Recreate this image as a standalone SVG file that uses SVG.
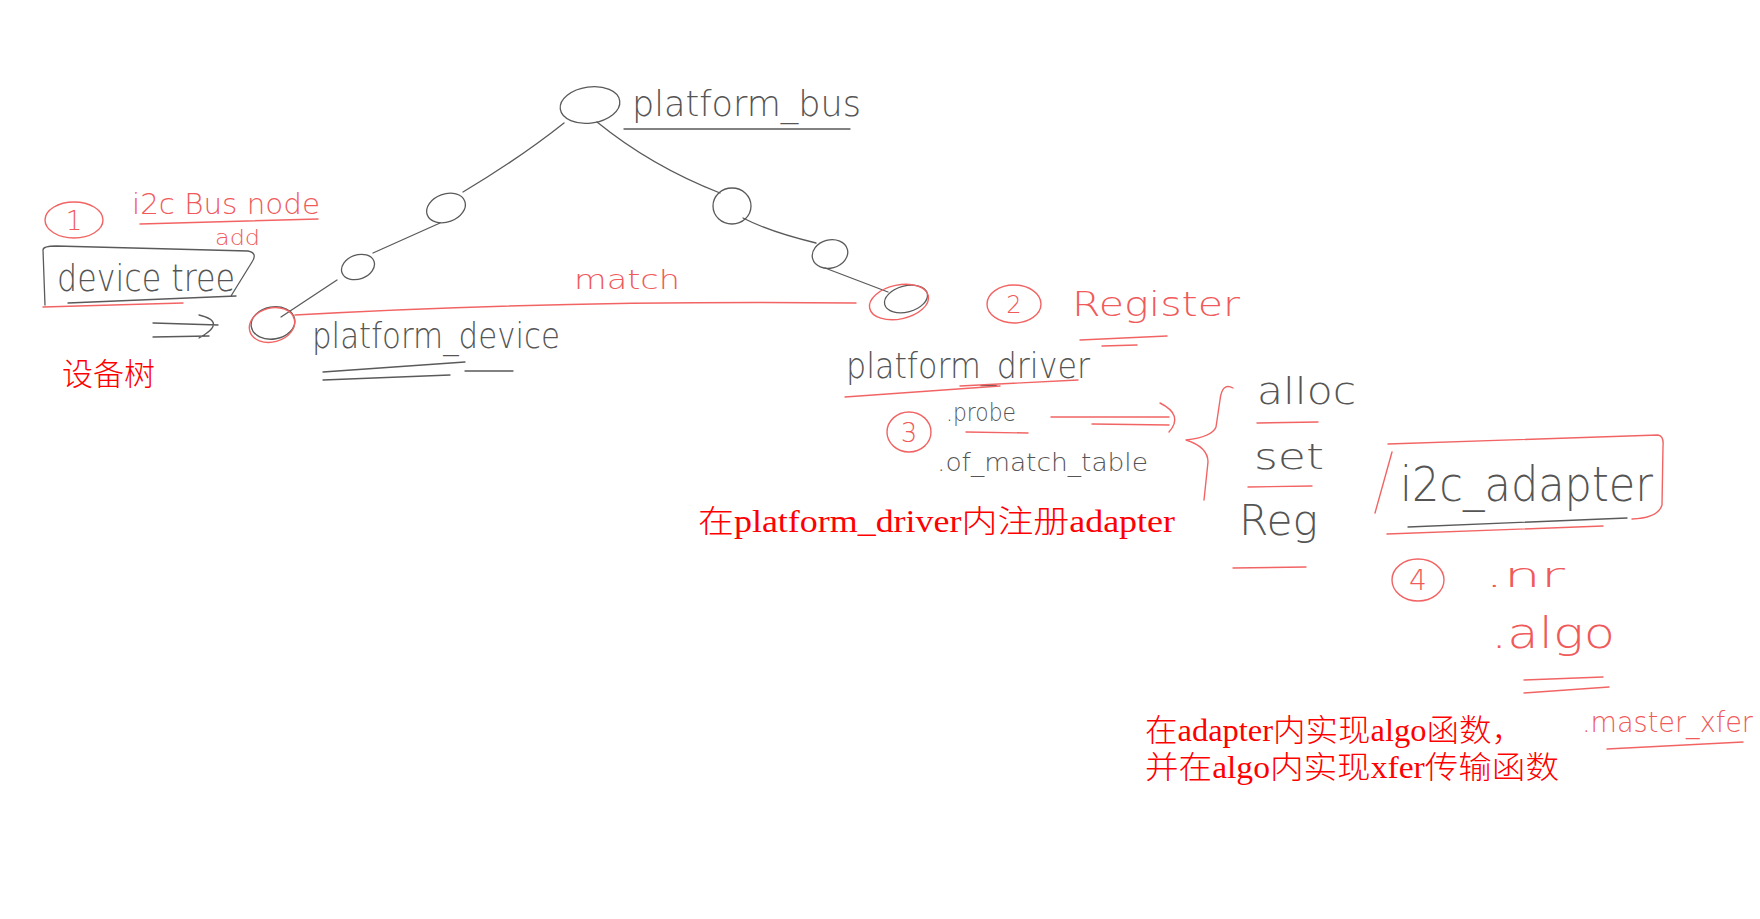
<svg xmlns="http://www.w3.org/2000/svg" width="1760" height="919" viewBox="0 0 1760 919">
<style>
.g{fill:none;stroke:#5a5a5a;stroke-width:1.3;stroke-linecap:round;stroke-linejoin:round}
.r{fill:none;stroke:#f26464;stroke-width:1.4;stroke-linecap:round;stroke-linejoin:round}
.hg{font-family:"DejaVu Sans","Liberation Sans",sans-serif;font-weight:200;fill:#555}
.hr{font-family:"DejaVu Sans","Liberation Sans",sans-serif;font-weight:200;fill:#f05a5a}
.p{font-family:"Liberation Serif","Noto Sans CJK SC",serif;font-weight:300;fill:#ff0000;font-size:31px}
</style>
<rect width="1760" height="919" fill="#ffffff"/>

<g id="connectors">
  <path class="g" d="M564,123 Q520,158 463,192"/>
  <path class="g" d="M440,223 L373,253"/>
  <path class="g" d="M337,280 L281,317"/>
  <path class="g" d="M597,122 Q651,166 720,193"/>
  <path class="g" d="M743,218 Q770,232 816,243"/>
  <path class="g" d="M825,268 L888,292"/>
  <path class="r" d="M295,315 Q560,300 856,303"/>
  <text class="hr" x="574" y="289" font-size="26" textLength="106" lengthAdjust="spacingAndGlyphs">match</text>
  <path class="g" d="M153,323 L218,325 M153,337 L209,336 M199,315 Q228,322 199,338"/>
  <path class="r" d="M1051,417 L1169,417 M1092,424 L1169,425 M1160,403 Q1184,415 1169,432"/>
</g>

<g id="platform_bus">
  <ellipse class="g" cx="590" cy="105" rx="30" ry="18" transform="rotate(-8 590 105)"/>
  <text class="hg" x="632" y="116" font-size="36" textLength="229" lengthAdjust="spacingAndGlyphs">platform_bus</text>
  <path class="g" d="M624,129 L850,129"/>
</g>

<g id="node_left1"><ellipse class="g" cx="446" cy="208" rx="20" ry="14" transform="rotate(-20 446 208)"/></g>
<g id="node_left2"><ellipse class="g" cx="358" cy="267" rx="17" ry="12" transform="rotate(-20 358 267)"/></g>

<g id="platform_device">
  <ellipse class="g" cx="273" cy="323" rx="22" ry="16" transform="rotate(-10 273 323)"/>
  <ellipse class="r" cx="272" cy="325" rx="23" ry="17" transform="rotate(-15 272 325)"/>
  <text class="hg" x="312" y="348" font-size="36" textLength="248" lengthAdjust="spacingAndGlyphs">platform_device</text>
  <path class="g" d="M323,372 L465,362 M465,371 L513,371 M323,380 L450,375"/>
</g>

<g id="node_right1"><ellipse class="g" cx="732" cy="206" rx="19" ry="18"/></g>
<g id="node_right2"><ellipse class="g" cx="830" cy="254" rx="18" ry="14" transform="rotate(-15 830 254)"/></g>

<g id="platform_driver">
  <ellipse class="g" cx="906" cy="299" rx="22" ry="13" transform="rotate(-15 906 299)"/>
  <ellipse class="r" cx="899" cy="302" rx="30" ry="17" transform="rotate(-12 899 302)"/>
  <text class="hg" x="846" y="378" font-size="36" textLength="244" lengthAdjust="spacingAndGlyphs">platform_driver</text>
  <path class="r" d="M845,397 L1000,386 M960,386 L1078,380"/>
</g>

<g id="device_tree">
  <path class="g" d="M45,305 L43,250 Q43,246 56,246 L248,251 Q258,253 252,262 L231,296 M236,296 L68,303"/>
  <text class="hg" x="57" y="291" font-size="38" textLength="178" lengthAdjust="spacingAndGlyphs">device tree</text>
  <path class="r" d="M43,307 L183,303"/>
</g>

<g id="step1">
  <ellipse class="r" cx="74" cy="220" rx="29" ry="18"/>
  <text class="hr" x="74" y="230" font-size="26" text-anchor="middle">1</text>
  <text class="hr" x="132" y="214" font-size="28" textLength="188" lengthAdjust="spacingAndGlyphs">i2c Bus node</text>
  <path class="r" d="M140,224 L318,219"/>
  <text class="hr" x="215" y="245" font-size="22" textLength="45" lengthAdjust="spacingAndGlyphs">add</text>
</g>

<g id="label_devicetree">
  <text class="p" x="62" y="385">设备树</text>
</g>

<g id="step2">
  <ellipse class="r" cx="1014" cy="304" rx="27" ry="19"/>
  <text class="hr" x="1014" y="313" font-size="24" text-anchor="middle">2</text>
  <text class="hr" x="1072" y="316" font-size="34" textLength="168" lengthAdjust="spacingAndGlyphs">Register</text>
  <path class="r" d="M1080,340 L1167,336 M1102,346 L1137,345"/>
</g>

<g id="step3">
  <ellipse class="r" cx="909" cy="432" rx="22" ry="20"/>
  <text class="hr" x="909" y="442" font-size="26" text-anchor="middle">3</text>
  <text class="hg" x="946" y="421" font-size="24" textLength="70" lengthAdjust="spacingAndGlyphs">.probe</text>
  <path class="r" d="M966,432 L1028,433"/>
  <text class="hg" x="937" y="471" font-size="24" textLength="211" lengthAdjust="spacingAndGlyphs">.of_match_table</text>
</g>

<g id="label_register">
  <text class="p" x="698" y="532" textLength="477" lengthAdjust="spacingAndGlyphs">在platform_driver内注册adapter</text>
</g>

<g id="adapter_steps">
  <path class="r" d="M1233,388 Q1222,382 1220,400 L1216,427 Q1212,437 1186,440 Q1208,447 1208,462 L1204,500"/>
  <text class="hg" x="1257" y="404" font-size="38" textLength="99" lengthAdjust="spacingAndGlyphs">alloc</text>
  <path class="r" d="M1257,423 L1318,422"/>
  <text class="hg" x="1254" y="469" font-size="36" textLength="70" lengthAdjust="spacingAndGlyphs">set</text>
  <path class="r" d="M1248,487 L1312,486"/>
  <text class="hg" x="1239" y="535" font-size="42" textLength="79" lengthAdjust="spacingAndGlyphs">Reg</text>
  <path class="r" d="M1233,568 L1306,567"/>
</g>

<g id="i2c_adapter">
  <path class="r" d="M1388,444 L1658,435 Q1664,436 1663,446 L1662,505 Q1658,518 1632,519 M1392,452 L1375,513 M1387,534 L1603,526"/>
  <text class="hg" x="1400" y="501" font-size="48" textLength="253" lengthAdjust="spacingAndGlyphs">i2c_adapter</text>
  <path class="g" d="M1408,527 L1627,518"/>
</g>

<g id="step4">
  <ellipse class="r" cx="1418" cy="580" rx="26" ry="21"/>
  <text class="hr" x="1418" y="590" font-size="28" text-anchor="middle">4</text>
  <text class="hr" x="1485" y="587" font-size="34" textLength="80" lengthAdjust="spacingAndGlyphs">.nr</text>
  <text class="hr" x="1491" y="648" font-size="42" textLength="124" lengthAdjust="spacingAndGlyphs">.algo</text>
  <path class="r" d="M1524,680 L1603,677 M1524,693 L1609,687"/>
  <text class="hr" x="1582" y="732" font-size="28" textLength="171" lengthAdjust="spacingAndGlyphs">.master_xfer</text>
  <path class="r" d="M1607,749 L1743,742"/>
</g>

<g id="label_algo">
  <text class="p" x="1145" y="741" textLength="379" lengthAdjust="spacingAndGlyphs">在adapter内实现algo函数，</text>
  <text class="p" x="1145" y="778" textLength="414" lengthAdjust="spacingAndGlyphs">并在algo内实现xfer传输函数</text>
</g>
</svg>
